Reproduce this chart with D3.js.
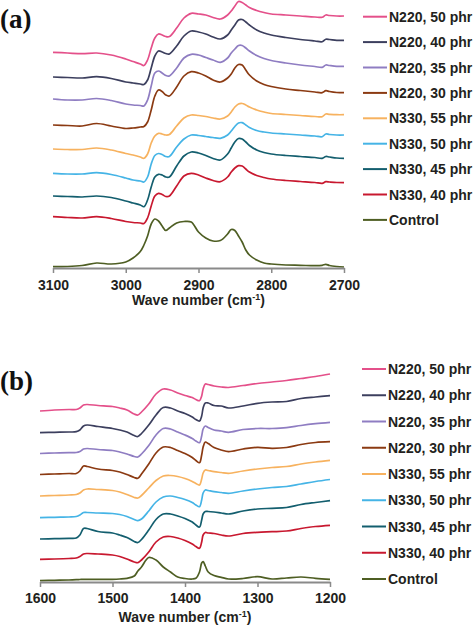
<!DOCTYPE html>
<html><head><meta charset="utf-8">
<script src="https://cdn.jsdelivr.net/npm/d3@7"></script>
<style>body{margin:0;background:#fff}svg{display:block}</style>
</head><body>
<svg id="chart" width="474" height="628"></svg>
<script>
// ---------- data ----------
const seriesNames = ["N220, 50 phr","N220, 40 phr","N220, 35 phr","N220, 30 phr","N330, 55 phr","N330, 50 phr","N330, 45 phr","N330, 40 phr","Control"];
const seriesColors = ["#e4508a","#3c3f5e","#8f7dc2","#8b3a12","#f7b25f","#45b4e6","#135e6e","#c8182f","#4e5e23"];

// Panel (a): C-H stretching region, wave number (cm-1)
const wavenumbersA = [3100,3080,3060,3040,3020,3000,2990,2980,2975,2970,2965,2960,2955,2950,2945,2940,2930,2920,2910,2900,2890,2880,2870,2860,2855,2850,2845,2840,2835,2830,2820,2810,2800,2780,2760,2740,2730,2725,2720,2710,2700];
const a_N220_50 = [215.7,215,214.3,215,213,209,206.5,204,202.5,208,220,230,234,233,231.5,231.5,240,250,254.7,254,253,250.5,249,253,257,262,266.5,265.5,263,260.5,257.5,255.5,254,253,252,251,250.7,253,252.5,252,252];
const a_N220_40 = [191,190.5,190,191.3,189.5,186,185,184,183.5,188,200,212,217,216,214.5,214,222,232,237,236,234,231,229,233,238,243,248,248.5,246,243,238,235,233,230.5,228.5,227,226.3,228.7,228.5,227.7,227.7];
const a_N220_35 = [169,168,168,169.5,167.5,164,163,162.5,162,168,182,195,197,195,192.5,192,200,210,213.7,213,210.5,208,205.7,210,215,219,222.5,222.5,220,217,212.5,209.5,207.5,205,203,201.5,200.7,203,202.5,201.7,201.7];
const a_N220_30 = [143,142.5,142,144.5,142,139.5,140,141,141.5,146,158,172,178,176.5,173,172,181,192,196.3,195,192,188,186,190,194,200,203.5,203,198,193,187,183.5,181.5,179,177.5,176,175.3,177.3,176.5,175.5,175.3];
const a_N330_55 = [119,118.5,118.5,120,118,114.5,113,111,109.7,114,125,132,134.7,134,133,133.5,142,150,153,152.5,151.5,150,149,152,156,161,164,164.5,163,161,158,156,154.5,153.5,152.5,151.5,151.3,154,153.7,153.3,153.3];
const a_N330_50 = [94.7,94,94,95.3,93.5,90,88,87,86,91,104,112.5,114.5,113.5,111.5,111.5,121,129,133,132.5,131.5,130.5,129.7,133,137,141.5,145,145.3,143,140.5,137.5,136,135,134,133,132,131.3,134,133.5,133,133];
const a_N330_45 = [72,71.5,71,72,70.5,67,65,63,61.3,68,81,91,93.7,93,91,91,102,112,116,115,112.5,109.5,108,114,120,126,129.5,129,126,122.5,118,115.5,114,112.5,111.5,110.5,109.7,111.5,111,110,109.7];
const a_N330_40 = [51.3,50.5,50,51.3,49.5,46.5,45.5,45,44.5,50,62,72,74.7,73.5,71.5,72,82,92,94.7,93,90,87.5,86.3,91,96,100,102.3,102,99,96,92.5,90.5,89,87.5,86.5,85.5,84.7,86.3,86,85.5,85.3];
const a_Control = [1.3,1.5,2.5,5,4,6,10,16.5,23,32,44,49,47,42,37.5,40,45,46.5,46,36,30,27,27.5,34,38.5,37.5,32,26,18,13,8,5,4,3,2.7,2.3,2.7,3.7,2.5,1.5,1];

// Panel (b): fingerprint region, wave number (cm-1)
const wavenumbersB = [1600,1580,1560,1550,1545,1540,1535,1520,1500,1490,1480,1470,1465,1460,1450,1440,1430,1420,1410,1400,1390,1385,1380,1377,1375,1372,1368,1360,1350,1340,1320,1300,1280,1260,1240,1220,1200];
const b_N220_50 = [171,172,172.5,172.5,174,177,177.5,176.5,175.5,174,172,168,167,170,178,188,193,192,189,186.5,184.5,182.5,181.3,186,193,198,197.5,196,195,194.5,196.5,198.5,200,201.5,203.5,205.5,208];
const b_N220_40 = [149.3,149.7,150,150.3,152,156,157,155.5,153.5,152,150,146.5,145.5,148.5,157,167,174.5,174,171,168.5,165,162.5,161,166,174,179,179,176.5,176,174,176,178.7,180,180.5,183.5,185,186.3];
const b_N220_35 = [128.5,129,129.3,129.5,130.5,133,133.5,132.5,131.5,130,128,125.5,125,128,136.5,147,153.5,153,150,147,143.5,141,139.3,146,153,156,154.5,152,151,149.7,152.5,153.5,153.5,154.3,156.5,158.3,159.7];
const b_N220_30 = [107.5,108,108.5,108.5,111,116,115.5,113,111.5,110,107.5,104.5,103.7,108,118,129,135,134.5,131.5,128.5,124.5,121.5,119.3,127,135,140,138.5,134.5,132,130.3,133,134.7,133.7,134.5,137.5,139.5,140.3];
const b_N330_55 = [86,86.5,87,87.5,89,92,93,92.5,91.5,90,87.5,84.5,84,86.5,94,101.5,106,106.5,105.5,103.5,100.5,98.5,97,103,109,112,111.5,110.3,109.5,108.7,111,113,114.5,115.5,118,120,121.7];
const b_N330_50 = [64.3,64.7,65,65.5,67,69.5,69.5,69,68.5,67.5,65.5,62.5,61.3,63,71,80,85,86,84.5,82.5,79.5,77,75.3,82,89,92,91.5,90.3,89.5,88.7,91,93,94.5,95.5,98,100.5,102.5];
const b_N330_45 = [43,43.3,43.7,44,47,53.5,53.5,50.5,49,47,44.5,40.5,39.5,42.5,52,62.5,68,68,66,63.5,60,57,55,62,68,70.5,70.5,70,69,68,71,73,73.7,74.5,77.5,79.5,81.3];
const b_N330_40 = [22.7,23,23.5,24,25.5,28,28.5,28,27,25.5,23,20,19.3,22,30,40,45,45.5,44,41.5,38,35.5,33.7,40,47,49.5,49,48.5,47,46,48.5,49.7,50.3,51,53.5,55.5,56.7];
const b_Control = [1.3,1.7,2,2.3,2.5,2.7,2.7,2.7,2.7,3,3.7,6,11,15,24.5,22,15,10,5,3.5,3,3.7,10,19,20.5,16,10,6.5,4.7,3,3.5,5.3,3,4,5,3.7,2.7];

const ticksA = [3100,3000,2900,2800,2700];
const ticksB = [1600,1500,1400,1300,1200];

const seriesA = [a_N220_50,a_N220_40,a_N220_35,a_N220_30,a_N330_55,a_N330_50,a_N330_45,a_N330_40,a_Control];
const seriesB = [b_N220_50,b_N220_40,b_N220_35,b_N220_30,b_N330_55,b_N330_50,b_N330_45,b_N330_40,b_Control];

// ---------- drawing ----------
const svg = d3.select("#chart");
const FONT = "'Liberation Sans', Arial, Helvetica, sans-serif";
const TEXT = "#231f20";
const AXIS = "#8a8a8a";

function panel(cfg){
  const g = svg.append("g");
  const x = d3.scaleLinear().domain(cfg.xDomain).range(cfg.xRange);
  const y = d3.scaleLinear().domain(cfg.yDomain).range(cfg.yRange);
  const line = d3.line().curve(d3.curveCatmullRom.alpha(0.5))
    .x((d,i)=>x(cfg.wn[i])).y(d=>y(d));
  cfg.series.forEach((s,i)=>{
    g.append("path").attr("d", line(s)).attr("fill","none")
      .attr("stroke", seriesColors[i]).attr("stroke-width",1.7)
      .attr("stroke-linejoin","round");
  });
  const ax = g.append("g").attr("transform",`translate(0,${cfg.axisY})`)
    .call(d3.axisBottom(x).tickValues(cfg.ticks).tickFormat(d3.format("d"))
      .tickSizeInner(5).tickSizeOuter(0).tickPadding(cfg.pad));
  ax.select(".domain").attr("stroke",AXIS).attr("stroke-width",1.8);
  ax.selectAll(".tick line").attr("stroke",AXIS).attr("stroke-width",1.5);
  ax.selectAll(".tick text").attr("font-family",FONT).attr("font-size",14)
    .attr("font-weight","bold").attr("fill",TEXT);
  const t = g.append("text").attr("x",(cfg.xRange[0]+cfg.xRange[1])/2).attr("y",cfg.titleY)
    .attr("text-anchor","middle").attr("font-family",FONT).attr("font-size",14)
    .attr("font-weight","bold").attr("fill",TEXT);
  t.append("tspan").text("Wave number (cm");
  t.append("tspan").text("-1").attr("font-size",9).attr("dy",-5);
  t.append("tspan").text(")").attr("dy",5);
  // panel label
  g.append("text").attr("x",cfg.labelX).attr("y",cfg.labelY).text(cfg.label)
    .attr("font-family","'Liberation Serif','Times New Roman',serif")
    .attr("font-size",27).attr("font-weight","bold").attr("fill","#111");
  // legend
  const lg = g.append("g");
  seriesNames.forEach((name,i)=>{
    const yy = cfg.legY0 + i*cfg.legStep;
    lg.append("line").attr("x1",cfg.legX).attr("x2",cfg.legX+24)
      .attr("y1",yy).attr("y2",yy).attr("stroke",seriesColors[i]).attr("stroke-width",2);
    lg.append("text").attr("x",cfg.legX+26).attr("y",yy+5).text(name)
      .attr("font-family",FONT).attr("font-size",14).attr("font-weight","bold").attr("fill",TEXT);
  });
}

panel({wn:wavenumbersA, series:seriesA, xDomain:[3100,2700], xRange:[53,344],
  yDomain:[0,268], yRange:[268,0], axisY:268, ticks:ticksA, pad:7.5, titleY:305,
  label:"(a)", labelX:0, labelY:28, legX:363, legY0:16.7, legStep:25.4});
panel({wn:wavenumbersB, series:seriesB, xDomain:[1600,1200], xRange:[40,330],
  yDomain:[0,250], yRange:[582,332], axisY:582, ticks:ticksB, pad:6.5, titleY:622,
  label:"(b)", labelX:0, labelY:390, legX:362, legY0:369, legStep:26.25});
</script>
</body></html>
